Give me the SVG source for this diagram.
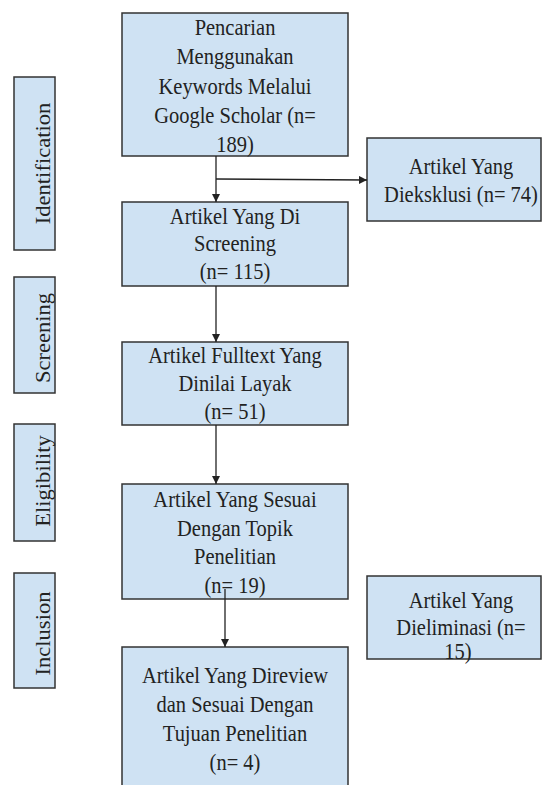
<svg xmlns="http://www.w3.org/2000/svg" width="544" height="785" viewBox="0 0 544 785">
<style>
.box{fill:#cfe2f3;stroke:#333;stroke-width:1.5}
.t{font-family:'Liberation Serif','Times New Roman',Times,'DejaVu Serif',serif;font-size:20.5px;fill:#222;text-anchor:middle}
.c{stroke:#222;stroke-width:1.3;fill:none;marker-end:url(#ah)}
</style>
<defs>
<marker id="ah" markerUnits="userSpaceOnUse" markerWidth="9" markerHeight="9" refX="8" refY="4" orient="auto">
<path d="M0,0 L8,4 L0,8 z" fill="#222"/>
</marker>
</defs>
<rect width="544" height="785" fill="#fff"/>
<g id="label-identification">
<rect class="box" x="14" y="77" width="41" height="173"/>
<text class="t" font-family="Liberation Serif, serif" transform="translate(49.5,163.5) scale(1,1.1) rotate(-90)">Identification</text>
</g>
<g id="label-screening">
<rect class="box" x="14" y="277" width="41" height="116"/>
<text class="t" font-family="Liberation Serif, serif" transform="translate(49.5,338) scale(1,1.1) rotate(-90)">Screening</text>
</g>
<g id="label-eligibility">
<rect class="box" x="14" y="424" width="41" height="117"/>
<text class="t" font-family="Liberation Serif, serif" transform="translate(49.5,481) scale(1,1.1) rotate(-90)">Eligibility</text>
</g>
<g id="label-inclusion">
<rect class="box" x="14" y="573" width="41" height="115"/>
<text class="t" font-family="Liberation Serif, serif" transform="translate(49.5,633.5) scale(1,1.1) rotate(-90)">Inclusion</text>
</g>
<g id="n1">
<rect class="box" x="122" y="13" width="226" height="143"/>
<text class="t" font-family="Liberation Serif, serif" transform="translate(235,35) scale(1,1.1)"><tspan x="0" dy="0">Pencarian</tspan><tspan x="0" dy="26.6">Menggunakan</tspan><tspan x="0" dy="26.6">Keywords Melalui</tspan><tspan x="0" dy="26.6">Google Scholar (n=</tspan><tspan x="0" dy="26.6">189)</tspan></text>
</g>
<g id="n-exclusi">
<rect class="box" x="367" y="138" width="174" height="83"/>
<text class="t" font-family="Liberation Serif, serif" transform="translate(461,174) scale(1,1.1)"><tspan x="0" dy="0">Artikel Yang</tspan><tspan x="0" dy="25.5">Dieksklusi (n= 74)</tspan></text>
</g>
<g id="n2">
<rect class="box" x="122" y="202" width="226" height="84"/>
<text class="t" font-family="Liberation Serif, serif" transform="translate(235,224) scale(1,1.1)"><tspan x="0" dy="0">Artikel Yang Di</tspan><tspan x="0" dy="25">Screening</tspan><tspan x="0" dy="25">(n= 115)</tspan></text>
</g>
<g id="n3">
<rect class="box" x="122" y="342" width="226" height="83"/>
<text class="t" font-family="Liberation Serif, serif" transform="translate(235,363) scale(1,1.1)"><tspan x="0" dy="0">Artikel Fulltext Yang</tspan><tspan x="0" dy="25.5">Dinilai Layak</tspan><tspan x="0" dy="25.5">(n= 51)</tspan></text>
</g>
<g id="n4">
<rect class="box" x="122" y="484" width="226" height="115"/>
<text class="t" font-family="Liberation Serif, serif" transform="translate(235,507) scale(1,1.1)"><tspan x="0" dy="0">Artikel Yang Sesuai</tspan><tspan x="0" dy="26.1">Dengan Topik</tspan><tspan x="0" dy="26.1">Penelitian</tspan><tspan x="0" dy="26.1">(n= 19)</tspan></text>
</g>
<g id="n-eliminasi">
<rect class="box" x="367" y="576" width="174" height="83"/>
<text class="t" font-family="Liberation Serif, serif" transform="translate(461,608) scale(1,1.1)"><tspan x="0" dy="0">Artikel Yang</tspan><tspan x="0" dy="25">Dieliminasi (n=</tspan><tspan x="-3" dy="21.5">15)</tspan></text>
</g>
<g id="n5">
<rect class="box" x="122" y="647" width="226" height="150"/>
<text class="t" font-family="Liberation Serif, serif" transform="translate(235,683) scale(1,1.1)"><tspan x="0" dy="0">Artikel Yang Direview</tspan><tspan x="0" dy="26.5">dan Sesuai Dengan</tspan><tspan x="0" dy="26.5">Tujuan Penelitian</tspan><tspan x="0" dy="26.5">(n= 4)</tspan></text>
</g>
<g id="connectors">
<line class="c" x1="216" y1="156" x2="216" y2="202"/>
<line class="c" x1="216" y1="179" x2="367" y2="180"/>
<line class="c" x1="216" y1="286" x2="216" y2="342"/>
<line class="c" x1="216" y1="425" x2="216" y2="484"/>
<line class="c" x1="225" y1="589" x2="225" y2="647"/>
</g>
</svg>
